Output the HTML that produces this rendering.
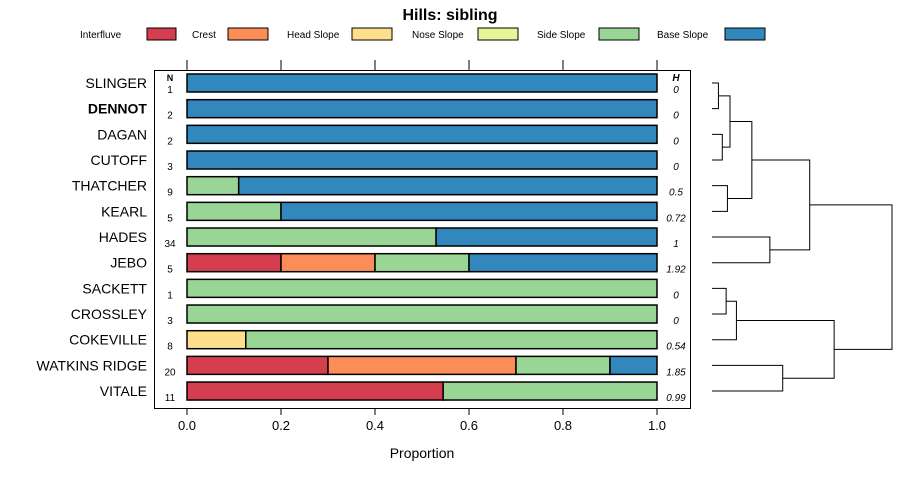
<!DOCTYPE html>
<html><head><meta charset="utf-8"><style>
body{margin:0;background:#fff;}
svg{display:block;font-family:"Liberation Sans",sans-serif;}
</style></head><body>
<svg id="chart" width="900" height="480"></svg>
<script>
const categories=["SLINGER","DENNOT","DAGAN","CUTOFF","THATCHER","KEARL","HADES","JEBO","SACKETT","CROSSLEY","COKEVILLE","WATKINS RIDGE","VITALE"];
const nValues=[1,2,2,3,9,5,34,5,1,3,8,20,11];
const hLabels=["0","0","0","0","0.5","0.72","1","1.92","0","0","0.54","1.85","0.99"];
const seriesNames=["Interfluve","Crest","Head Slope","Nose Slope","Side Slope","Base Slope"];
const interfluve=[0,0,0,0,0,0,0,0.2,0,0,0,0.3,0.545];
const crest=[0,0,0,0,0,0,0,0.2,0,0,0,0.4,0];
const headSlope=[0,0,0,0,0,0,0,0,0,0,0.125,0,0];
const noseSlope=[0,0,0,0,0,0,0,0,0,0,0,0,0];
const sideSlope=[0,0,0,0,0.11,0.2,0.53,0.2,1,1,0.875,0.2,0.455];
const baseSlope=[1,1,1,1,0.89,0.8,0.47,0.4,0,0,0,0.1,0];
const xTicks=[0,0.2,0.4,0.6,0.8,1];
const xTickLabels=["0.0","0.2","0.4","0.6","0.8","1.0"];
// dendrogram merges: [leftNode,rightNode,height]; leaves are 0..12, merged nodes 13+
const merges=[[0,1,0.05],[2,3,0.08],[13,14,0.14],[4,5,0.12],[15,16,0.31],[6,7,0.45],[17,18,0.76],[8,9,0.11],[20,10,0.19],[11,12,0.55],[21,22,0.95],[19,23,1.4]];
const colors=["#D53E4F","#FC8D59","#FEE08B","#E6F598","#99D594","#3288BD"];
const series=[interfluve,crest,headSlope,noseSlope,sideSlope,baseSlope];

const svg=document.getElementById('chart');
const NS="http://www.w3.org/2000/svg";
function mk(tag,attrs,parent){const e=document.createElementNS(NS,tag);for(const k in attrs)e.setAttribute(k,attrs[k]);(parent||svg).appendChild(e);return e;}
const x0=187,x1=657;
const xs=v=>x0+v*(x1-x0);
const rowY=i=>83+i*25.67;
const dx0=712,dscale=(892-712)/1.4;
const dx=h=>dx0+h*dscale;

let t=mk('text',{x:450,y:20,'text-anchor':'middle','font-size':16,'font-weight':'bold'});t.textContent="Hills: sibling";


const legTextX=[80,192,287,412,537,657],legRectX=[147,228,352,478,599,725],legRectW=[29,40,40,40,40,40];
seriesNames.forEach((n,i)=>{
 const g=mk('g',{});
 
 
 const tt=mk('text',{x:legTextX[i],y:38,'font-size':10},g);tt.textContent=n;
 mk('rect',{x:legRectX[i],y:28,width:legRectW[i],height:12,fill:colors[i],stroke:'#000','stroke-width':1},g);
});

const panel=mk('rect',{x:154.5,y:70.5,width:536,height:338,fill:'none',stroke:'#000','stroke-width':1});

xTicks.forEach((v,i)=>{
 mk('line',{x1:xs(v),x2:xs(v),y1:60,y2:70,stroke:'#000'});
 mk('line',{x1:xs(v),x2:xs(v),y1:409,y2:415,stroke:'#000'});
 const l=mk('text',{x:xs(v),y:430,'text-anchor':'middle','font-size':13});l.textContent=xTickLabels[i];
 
});
t=mk('text',{x:422,y:458,'text-anchor':'middle','font-size':14});t.textContent="Proportion";

t=mk('text',{x:170,y:81,'text-anchor':'middle','font-size':9,'font-weight':'bold'});t.textContent="N";
t=mk('text',{x:676,y:81,'text-anchor':'middle','font-size':10,'font-weight':'bold','font-style':'italic'});t.textContent="H";

categories.forEach((c,i)=>{
 const y=rowY(i);
 const lab=mk('text',{x:147,y:y+5,'text-anchor':'end','font-size':14,'font-weight':c==="DENNOT"?'bold':'normal'});lab.textContent=c;
 
 const n=mk('text',{x:170,y:y+10,'text-anchor':'middle','font-size':10});n.textContent=nValues[i];
 
 const h=mk('text',{x:676,y:y+10,'text-anchor':'middle','font-size':10,'font-style':'italic'});h.textContent=hLabels[i];
 
 let cum=0;
 series.forEach((s,k)=>{
  if(s[i]>0){
   const r=mk('rect',{x:xs(cum),y:y-9,width:xs(cum+s[i])-xs(cum),height:18,fill:colors[k],stroke:'#000','stroke-width':1.5});
   
   
  }
  cum+=s[i];
 });
});

// dendrogram
const nodeY=categories.map((c,i)=>rowY(i)),nodeH=categories.map(()=>0);
merges.forEach(m=>{
 const [a,b,h]=m;
 const p=mk('path',{d:`M${dx(nodeH[a])},${nodeY[a]}H${dx(h)}V${nodeY[b]}H${dx(nodeH[b])}`,fill:'none',stroke:'#000','stroke-width':1});
 
 nodeY.push((nodeY[a]+nodeY[b])/2);nodeH.push(h);
});
</script>
</body></html>
